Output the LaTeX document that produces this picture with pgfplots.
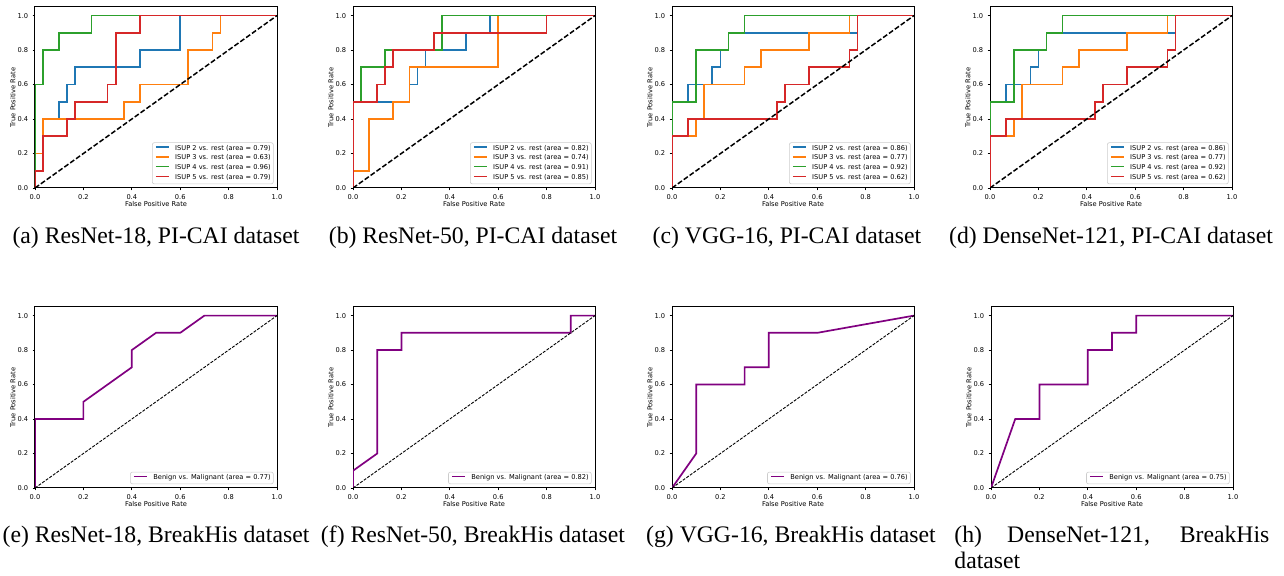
\documentclass[border=0pt]{standalone}
\usepackage{fontspec}
\setmainfont{Liberation Serif}
\newfontfamily\mplfont{DejaVu Sans}
\usepackage{pgfplots}
\pgfplotsset{compat=1.18}
\definecolor{cA}{HTML}{1F77B4}
\definecolor{cB}{HTML}{FF7F0E}
\definecolor{cC}{HTML}{2CA02C}
\definecolor{cD}{HTML}{D62728}
\definecolor{mplpurple}{HTML}{800080}
\newcommand\tickfont{\mplfont\fontsize{3.33pt}{4pt}\selectfont}
\newcommand\capfont{\fontsize{11.85pt}{13pt}\selectfont}
\pgfplotsset{
  roc/.style={
    scale only axis, width=121pt, height=90.5pt,
    xmin=0, xmax=1, ymin=0, ymax=1.05,
    xtick={0,0.2,0.4,0.6,0.8,1}, ytick={0,0.2,0.4,0.6,0.8,1},
    xtick pos=bottom, ytick pos=left,
    tick align=outside, major tick length=1.2pt,
    every tick/.style={black, line width=0.35pt},
    axis line style={line width=0.5pt, black},
    /pgf/number format/.cd, fixed, fixed zerofill, precision=1, assume math mode=true, /pgfplots/.cd,
    ticklabel style={font=\tickfont},
    xticklabel style={anchor=center, inner sep=0pt, yshift=-3.5pt},
    yticklabel style={anchor=east, inner sep=0pt, xshift=-2pt},
    xlabel={False Positive Rate}, ylabel={True Positive Rate},
    every axis x label/.style={at={(axis description cs:0.5,-0.088)}, anchor=center, font=\tickfont},
    every axis y label/.style={at={(axis description cs:-0.091,0.5)}, anchor=center, rotate=90, font=\tickfont},
    legend style={at={(1,0)}, anchor=south east, xshift=-1.7pt, yshift=1.9pt,
      draw=black!20, fill=white, rounded corners=1pt, line width=0.3pt,
      font=\tickfont, inner xsep=1.3pt, inner ysep=1.3pt, row sep=1.6pt, column sep=2.6pt,
      nodes={inner sep=0pt, text height=2.45pt, text depth=0.85pt}},
    legend cell align=left,
    legend image code/.code={\draw[##1] (0pt,0.8pt) -- (6.7pt,0.8pt);},
    every axis plot/.append style={line width=0.85pt},
  },
  diagA/.style={black, dash pattern=on 2.5pt off 1.1pt, line width=0.75pt, forget plot},
  diagB/.style={black, dash pattern=on 1.5pt off 0.7pt, line width=0.45pt, forget plot},
}
\begin{document}
\begin{tikzpicture}
\path[use as bounding box] (0pt,0pt) rectangle (642pt,288pt);
% ---------- (a)
\begin{axis}[roc, at={(17.5pt,194pt)}, anchor=south west]
\addplot[cA] coordinates {(0,0)(0,0.2)(0.0333,0.2)(0.0333,0.4)(0.1,0.4)(0.1,0.5)(0.1333,0.5)(0.1333,0.6)(0.1667,0.6)(0.1667,0.7)(0.4333,0.7)(0.4333,0.8)(0.6,0.8)(0.6,1)(1,1)};
\addlegendentry{ISUP 2 vs. rest (area = 0.79)}
\addplot[cB] coordinates {(0,0)(0,0.2)(0.0333,0.2)(0.0333,0.4)(0.3667,0.4)(0.3667,0.5)(0.4333,0.5)(0.4333,0.6)(0.6333,0.6)(0.6333,0.8)(0.7333,0.8)(0.7333,0.9)(0.7667,0.9)(0.7667,1)(1,1)};
\addlegendentry{ISUP 3 vs. rest (area = 0.63)}
\addplot[cC] coordinates {(0,0)(0,0.6)(0.0333,0.6)(0.0333,0.8)(0.1,0.8)(0.1,0.9)(0.2333,0.9)(0.2333,1)(1,1)};
\addlegendentry{ISUP 4 vs. rest (area = 0.96)}
\addplot[cD] coordinates {(0,0)(0,0.1)(0.0333,0.1)(0.0333,0.3)(0.1333,0.3)(0.1333,0.4)(0.1667,0.4)(0.1667,0.5)(0.3,0.5)(0.3,0.6)(0.3333,0.6)(0.3333,0.9)(0.4333,0.9)(0.4333,1)(1,1)};
\addlegendentry{ISUP 5 vs. rest (area = 0.79)}
\addplot[diagA] coordinates {(0,0)(1,1)};
\end{axis}
% ---------- (b)
\begin{axis}[roc, at={(176.5pt,194pt)}, anchor=south west]
\addplot[cA] coordinates {(0,0)(0,0.5)(0.2333,0.5)(0.2333,0.6)(0.2667,0.6)(0.2667,0.7)(0.3,0.7)(0.3,0.8)(0.4667,0.8)(0.4667,0.9)(0.5667,0.9)(0.5667,1)(1,1)};
\addlegendentry{ISUP 2 vs. rest (area = 0.82)}
\addplot[cB] coordinates {(0,0)(0,0.1)(0.0667,0.1)(0.0667,0.4)(0.1667,0.4)(0.1667,0.5)(0.2333,0.5)(0.2333,0.7)(0.6,0.7)(0.6,1)(1,1)};
\addlegendentry{ISUP 3 vs. rest (area = 0.74)}
\addplot[cC] coordinates {(0,0)(0,0.5)(0.0333,0.5)(0.0333,0.7)(0.1333,0.7)(0.1333,0.8)(0.3667,0.8)(0.3667,1)(1,1)};
\addlegendentry{ISUP 4 vs. rest (area = 0.91)}
\addplot[cD] coordinates {(0,0)(0,0.5)(0.1,0.5)(0.1,0.6)(0.1333,0.6)(0.1333,0.7)(0.1667,0.7)(0.1667,0.8)(0.3333,0.8)(0.3333,0.9)(0.8,0.9)(0.8,1)(1,1)};
\addlegendentry{ISUP 5 vs. rest (area = 0.85)}
\addplot[diagA] coordinates {(0,0)(1,1)};
\end{axis}
% ---------- (c)
\begin{axis}[roc, at={(336pt,194pt)}, anchor=south west]
\addplot[cA] coordinates {(0,0)(0,0.5)(0.0667,0.5)(0.0667,0.6)(0.1667,0.6)(0.1667,0.7)(0.2,0.7)(0.2,0.8)(0.2333,0.8)(0.2333,0.9)(0.7667,0.9)(0.7667,1)(1,1)};
\addlegendentry{ISUP 2 vs. rest (area = 0.86)}
\addplot[cB] coordinates {(0,0)(0,0.3)(0.1,0.3)(0.1,0.4)(0.1333,0.4)(0.1333,0.6)(0.3,0.6)(0.3,0.7)(0.3667,0.7)(0.3667,0.8)(0.5667,0.8)(0.5667,0.9)(0.7333,0.9)(0.7333,1)(1,1)};
\addlegendentry{ISUP 3 vs. rest (area = 0.77)}
\addplot[cC] coordinates {(0,0)(0,0.5)(0.1,0.5)(0.1,0.8)(0.2333,0.8)(0.2333,0.9)(0.3,0.9)(0.3,1)(1,1)};
\addlegendentry{ISUP 4 vs. rest (area = 0.92)}
\addplot[cD] coordinates {(0,0)(0,0.3)(0.0667,0.3)(0.0667,0.4)(0.4333,0.4)(0.4333,0.5)(0.4667,0.5)(0.4667,0.6)(0.5667,0.6)(0.5667,0.7)(0.7333,0.7)(0.7333,0.8)(0.7667,0.8)(0.7667,1)(1,1)};
\addlegendentry{ISUP 5 vs. rest (area = 0.62)}
\addplot[diagA] coordinates {(0,0)(1,1)};
\end{axis}
% ---------- (d)
\begin{axis}[roc, at={(495pt,194pt)}, anchor=south west]
\addplot[cA] coordinates {(0,0)(0,0.5)(0.0667,0.5)(0.0667,0.6)(0.1667,0.6)(0.1667,0.7)(0.2,0.7)(0.2,0.8)(0.2333,0.8)(0.2333,0.9)(0.7667,0.9)(0.7667,1)(1,1)};
\addlegendentry{ISUP 2 vs. rest (area = 0.86)}
\addplot[cB] coordinates {(0,0)(0,0.3)(0.1,0.3)(0.1,0.4)(0.1333,0.4)(0.1333,0.6)(0.3,0.6)(0.3,0.7)(0.3667,0.7)(0.3667,0.8)(0.5667,0.8)(0.5667,0.9)(0.7333,0.9)(0.7333,1)(1,1)};
\addlegendentry{ISUP 3 vs. rest (area = 0.77)}
\addplot[cC] coordinates {(0,0)(0,0.5)(0.1,0.5)(0.1,0.8)(0.2333,0.8)(0.2333,0.9)(0.3,0.9)(0.3,1)(1,1)};
\addlegendentry{ISUP 4 vs. rest (area = 0.92)}
\addplot[cD] coordinates {(0,0)(0,0.3)(0.0667,0.3)(0.0667,0.4)(0.4333,0.4)(0.4333,0.5)(0.4667,0.5)(0.4667,0.6)(0.5667,0.6)(0.5667,0.7)(0.7333,0.7)(0.7333,0.8)(0.7667,0.8)(0.7667,1)(1,1)};
\addlegendentry{ISUP 5 vs. rest (area = 0.62)}
\addplot[diagA] coordinates {(0,0)(1,1)};
\end{axis}
% ---------- (e)
\begin{axis}[roc, at={(17.5pt,44pt)}, anchor=south west]
\addplot[mplpurple] coordinates {(0,0)(0,0.4)(0.2,0.4)(0.2,0.5)(0.4,0.7)(0.4,0.8)(0.5,0.9)(0.6,0.9)(0.7,1)(1,1)};
\addlegendentry{Benign vs. Malignant (area = 0.77)}
\addplot[diagB] coordinates {(0,0)(1,1)};
\end{axis}
% ---------- (f)
\begin{axis}[roc, at={(176.5pt,44pt)}, anchor=south west]
\addplot[mplpurple] coordinates {(0,0)(0,0.1)(0.1,0.2)(0.1,0.8)(0.2,0.8)(0.2,0.9)(0.9,0.9)(0.9,1)(1,1)};
\addlegendentry{Benign vs. Malignant (area = 0.82)}
\addplot[diagB] coordinates {(0,0)(1,1)};
\end{axis}
% ---------- (g)
\begin{axis}[roc, at={(336pt,44pt)}, anchor=south west]
\addplot[mplpurple] coordinates {(0,0)(0.1,0.2)(0.1,0.6)(0.3,0.6)(0.3,0.7)(0.4,0.7)(0.4,0.9)(0.6,0.9)(1,1)};
\addlegendentry{Benign vs. Malignant (area = 0.76)}
\addplot[diagB] coordinates {(0,0)(1,1)};
\end{axis}
% ---------- (h)
\begin{axis}[roc, at={(495.5pt,44pt)}, anchor=south west]
\addplot[mplpurple] coordinates {(0,0)(0.1,0.4)(0.2,0.4)(0.2,0.6)(0.4,0.6)(0.4,0.8)(0.5,0.8)(0.5,0.9)(0.6,0.9)(0.6,1)(1,1)};
\addlegendentry{Benign vs. Malignant (area = 0.75)}
\addplot[diagB] coordinates {(0,0)(1,1)};
\end{axis}
% ---------- captions
\node[anchor=base, font=\capfont, inner sep=0pt] at (78pt,166pt) {(a) ResNet-18, PI-CAI dataset};
\node[anchor=base, font=\capfont, inner sep=0pt] at (236.5pt,166pt) {(b) ResNet-50, PI-CAI dataset};
\node[anchor=base, font=\capfont, inner sep=0pt] at (393.5pt,166pt) {(c) VGG-16, PI-CAI dataset};
\node[anchor=base, font=\capfont, inner sep=0pt] at (555.5pt,166pt) {(d) DenseNet-121, PI-CAI dataset};
\node[anchor=base, font=\capfont, inner sep=0pt] at (78pt,16.5pt) {(e) ResNet-18, BreakHis dataset};
\node[anchor=base, font=\capfont, inner sep=0pt] at (236.5pt,16.5pt) {(f) ResNet-50, BreakHis dataset};
\node[anchor=base, font=\capfont, inner sep=0pt] at (395.5pt,16.5pt) {(g) VGG-16, BreakHis dataset};
\node[anchor=base west, font=\capfont, inner sep=0pt] at (477pt,16.5pt) {\makebox[157.5pt][s]{(h) DenseNet-121, BreakHis}};
\node[anchor=base west, font=\capfont, inner sep=0pt] at (477pt,3.5pt) {dataset};
\end{tikzpicture}
\end{document}
